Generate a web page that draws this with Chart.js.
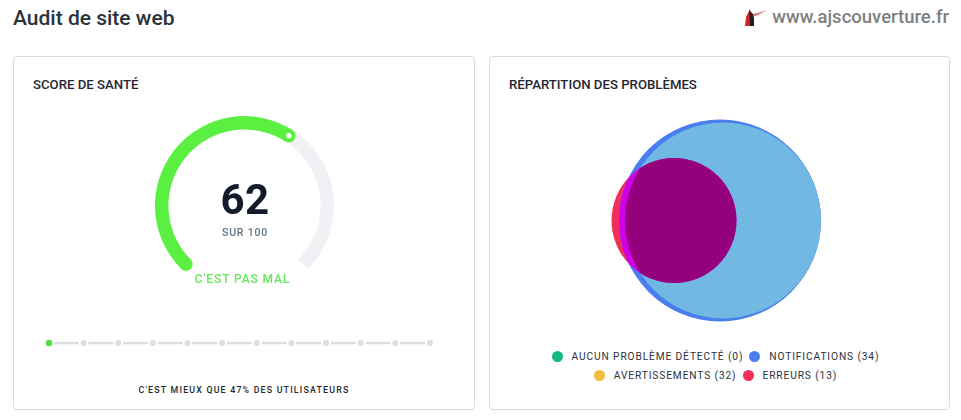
<!DOCTYPE html>
<html lang="fr">
<head>
<meta charset="utf-8">
<title>Audit de site web</title>
<script src="https://cdn.jsdelivr.net/npm/chart.js@4"></script>
<style>
  html, body { margin: 0; padding: 0; background: #fff; }
  body { width: 961px; height: 420px; position: relative; overflow: hidden; font-family: Roboto, sans-serif; }
  .abs { position: absolute; white-space: nowrap; }
  canvas { position: absolute; }
  #title { left: 13px; top: 6px; font-size: 21px; line-height: 24px; font-weight: 500; color: #2b323b; }
  #site { right: 12px; top: 5px; font-size: 18.5px; line-height: 24px; font-weight: 500; color: #7d7f82; }
  #logo { position: absolute; left: 744px; top: 7px; }
  .card { position: absolute; top: 56px; height: 352px; border: 1px solid #d8dadd; border-radius: 4px; box-sizing: content-box; }
  #card-left { left: 13px; width: 460px; }
  #card-right { left: 489px; width: 459px; }
  .card-title { top: 77px; font-size: 13.2px; line-height: 16px; font-weight: 500; color: #1f2630; }
  #score { left: 155.5px; width: 179px; top: 175px; text-align: center; font-size: 42px; line-height: 50px; font-weight: 700; color: #141c2b; letter-spacing: .3px; }
  #score-max { left: 155.5px; width: 179px; top: 226px; text-align: center; font-size: 10.5px; line-height: 14px; font-weight: 500; color: #5f7283; letter-spacing: .8px; }
  #verdict { left: 155px; width: 175px; top: 272px; text-align: center; font-size: 12px; line-height: 15px; font-weight: 500; color: #69e65f; letter-spacing: .9px; }
  #better { left: 13px; width: 462px; top: 384px; text-align: center; font-size: 8.8px; line-height: 12px; font-weight: 500; color: #23272e; letter-spacing: 1.2px; }
  #legend { position: absolute; left: 497.5px; width: 436px; top: 347px; display: flex; flex-wrap: wrap; justify-content: center; }
  .item { display: flex; align-items: center; height: 19px; font-size: 10.2px; font-weight: 400; color: #2b313a; letter-spacing: .88px; white-space: nowrap; margin: 0 3px; }
  .item i { display: inline-block; width: 11px; height: 11px; border-radius: 50%; margin-right: 9px; }
  .break { flex-basis: 100%; height: 0; }
</style>
</head>
<body>
<div class="abs" id="title">Audit de site web</div>
<svg id="logo" width="24" height="20" viewBox="0 0 24 20">
  <path d="M2 10 L6 2 L8 19 L1 19 Z" fill="#d8232a"/>
  <path d="M5 3 L10 8 L10 19 L6 19 Z" fill="#23211f"/>
  <path d="M9 7 Q15 6 23 3 Q15 8 9 10 Z" fill="#e2737a"/>
</svg>
<div class="abs" id="site">www.ajscouverture.fr</div>

<div class="card" id="card-left"></div>
<div class="card" id="card-right"></div>
<div class="abs card-title" style="left:33px">SCORE DE SANTÉ</div>
<div class="abs card-title" style="left:509px">RÉPARTITION DES PROBLÈMES</div>

<canvas id="gauge" width="199" height="173" style="left:145px;top:106px"></canvas>
<div class="abs" id="score"></div>
<div class="abs" id="score-max"></div>
<div class="abs" id="verdict">C'EST PAS MAL</div>

<canvas id="steps" width="410" height="20" style="left:35px;top:333px"></canvas>
<div class="abs" id="better"></div>

<canvas id="venn" width="260" height="220" style="left:590px;top:110px"></canvas>
<div id="legend"></div>

<script>
const score = 62;
const scoreMax = 100;
const betterThan = 47;

const rankSteps = ['0', '1', '2', '3', '4', '5', '6', '7', '8', '9', '10', '11'];
const rankValues = [1, 1, 1, 1, 1, 1, 1, 1, 1, 1, 1, 1];

const issueLabels = ['AUCUN PROBLÈME DÉTECTÉ', 'NOTIFICATIONS', 'AVERTISSEMENTS', 'ERREURS'];
const issueCounts = [0, 34, 32, 13];
const issueX = [130, 130, 133, 84];
const issueY = [110.5, 110.5, 110.5, 110.5];
const issueColors = ['#10b981', '#4a7eee', '#71b9e3', '#f22f5c'];
const legendColors = ['#10b981', '#4a7eee', '#f0bd3c', '#f22f5c'];

document.getElementById('score').textContent = score;
document.getElementById('score-max').textContent = 'SUR ' + scoreMax;
document.getElementById('better').textContent = "C'EST MIEUX QUE " + betterThan + '% DES UTILISATEURS';

// legend
const legend = document.getElementById('legend');
issueLabels.forEach((label, i) => {
  legend.insertAdjacentHTML('beforeend',
    `<span class="item"><i style="background:${legendColors[i]}"></i>${label} (${issueCounts[i]})</span>`);
  if (i === 1) legend.insertAdjacentHTML('beforeend', '<span class="break"></span>');
});

// round caps and white dot on the gauge
const gaugeCaps = {
  id: 'gaugeCaps',
  afterDatasetsDraw(chart) {
    const arc = chart.getDatasetMeta(0).data[0];
    const ctx = chart.ctx;
    const mid = (arc.innerRadius + arc.outerRadius) / 2;
    const cap = (arc.outerRadius - arc.innerRadius) / 2;
    const at = (angle) => [arc.x + Math.cos(angle) * mid, arc.y + Math.sin(angle) * mid];
    ctx.save();
    ctx.fillStyle = arc.options.backgroundColor;
    [arc.startAngle, arc.endAngle].forEach((angle) => {
      const p = at(angle);
      ctx.beginPath();
      ctx.arc(p[0], p[1], cap, 0, Math.PI * 2);
      ctx.fill();
    });
    const end = at(arc.endAngle);
    ctx.fillStyle = '#fff';
    ctx.beginPath();
    ctx.arc(end[0], end[1], 2.6, 0, Math.PI * 2);
    ctx.fill();
    ctx.restore();
  }
};

new Chart(document.getElementById('gauge'), {
  type: 'doughnut',
  data: {
    labels: ['Score', 'Reste'],
    datasets: [{
      data: [score, scoreMax - score],
      backgroundColor: ['#5bef42', '#f0f1f5'],
      borderWidth: 0
    }]
  },
  options: {
    responsive: false,
    animation: false,
    rotation: -135,
    circumference: 270,
    cutout: '85%',
    layout: { padding: 10 },
    plugins: { legend: { display: false }, tooltip: { enabled: false } }
  },
  plugins: [gaugeCaps]
});

new Chart(document.getElementById('steps'), {
  type: 'line',
  data: {
    labels: rankSteps,
    datasets: [{
      data: rankValues,
      borderColor: '#dcdde3',
      borderWidth: 2.5,
      tension: 0,
      pointRadius: rankSteps.map((s, i) => (i === 0 ? 4.3 : 4)),
      pointBackgroundColor: rankSteps.map((s, i) => (i === 0 ? '#4fe03f' : '#dcdde3')),
      pointBorderColor: '#fff',
      pointBorderWidth: 2,
      clip: false
    }]
  },
  options: {
    responsive: false,
    animation: false,
    layout: { padding: { left: 14, right: 15 } },
    scales: {
      x: { display: false },
      y: { display: false, min: 0, max: 2 }
    },
    plugins: { legend: { display: false }, tooltip: { enabled: false } }
  }
});

// overlaps of the circles get their own colours
const vennOverlaps = {
  id: 'vennOverlaps',
  afterDatasetsDraw(chart) {
    const point = (i) => chart.getDatasetMeta(i).data[0];
    const ctx = chart.ctx;
    const circle = (p) => {
      ctx.beginPath();
      ctx.arc(p.x, p.y, p.options.radius, 0, Math.PI * 2);
    };
    ctx.save();
    circle(point(1));
    ctx.clip();
    circle(point(3));
    ctx.fillStyle = '#d200e6';
    ctx.fill();
    circle(point(2));
    ctx.clip();
    circle(point(3));
    ctx.fillStyle = '#95007c';
    ctx.fill();
    ctx.restore();
  }
};

const drawOrder = [0, 2, 1, 3];
new Chart(document.getElementById('venn'), {
  type: 'bubble',
  data: {
    datasets: issueLabels.map((label, i) => ({
      label: label,
      data: [{ x: issueX[i], y: issueY[i], r: 101 * Math.sqrt(issueCounts[i] / issueCounts[1]) }],
      backgroundColor: issueColors[i],
      borderWidth: 0,
      order: drawOrder[i],
      clip: false
    }))
  },
  options: {
    responsive: false,
    animation: false,
    // bubbles would otherwise shrink the chart area by their radius
    layout: { autoPadding: false, padding: 0 },
    scales: {
      x: { display: false, min: 0, max: 260 },
      y: { display: false, min: 0, max: 220, reverse: true }
    },
    plugins: { legend: { display: false }, tooltip: { enabled: false } }
  },
  plugins: [vennOverlaps]
});
</script>
</body>
</html>
